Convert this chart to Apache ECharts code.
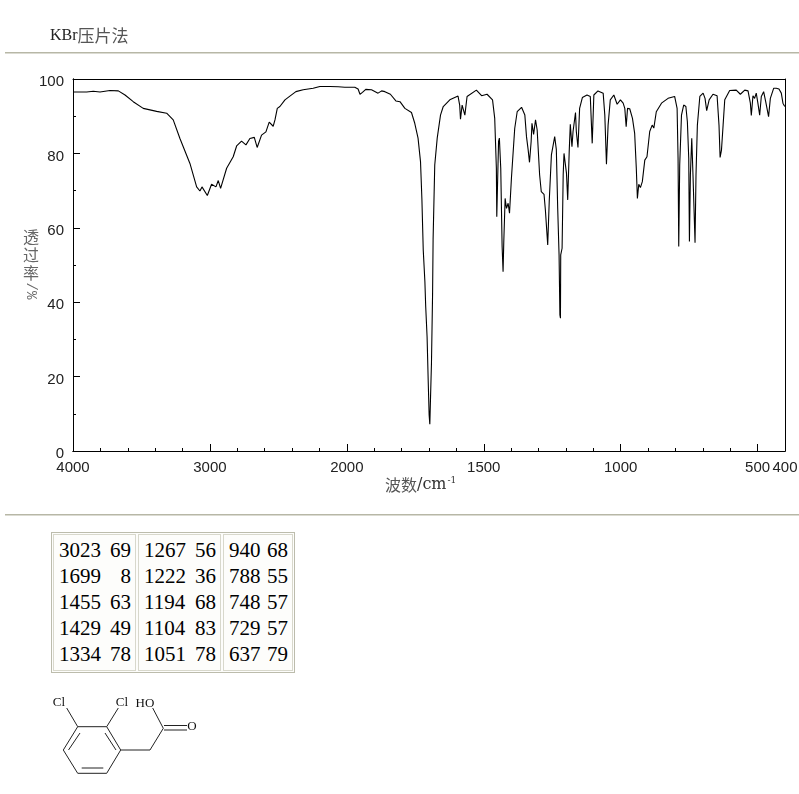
<!DOCTYPE html>
<html lang="zh">
<head>
    <meta charset="UTF-8">
    <title>KBr压片法</title>
    <style>
        html, body { margin: 0; padding: 0; background: #fff; }
        #ir { position: absolute; left: 0; top: 0; width: 799px; height: 794px; }
        /*峰值表*/
        #peaks {
            position: absolute; left: 51px; top: 532px; width: 240px; height: 137px;
            border: 1px solid #bcbcac; display: flex; gap: 2px; padding: 1px;
            font: 21px/26px "Liberation Serif", serif; color: #000; background: #fdfdfb;
        }
        #peaks .col { border: 1px solid #d8d8cc; padding: 2px 4px 0 5px; box-sizing: border-box; height: 100%; }
        #peaks .row { display: flex; justify-content: space-between; }
    </style>
</head>
<body>
<div id="ir"></div>
<div id="peaks"></div>
<script src="https://cdn.jsdelivr.net/npm/echarts@6/dist/echarts.min.js"></script>
<script>
    var waveNumbers = [
        3998, 3900, 3852, 3803, 3730, 3669, 3620, 3560, 3487, 3389, 3316, 3268, 3219, 3146, 3097, 3073, 3058, 3019, 2988, 2956,
        2939, 2922, 2878, 2830, 2805, 2769, 2737, 2708, 2676, 2655, 2623, 2591, 2567, 2538, 2525, 2508, 2489, 2452, 2416, 2372,
        2319, 2246, 2197, 2124, 2063, 2015, 1971, 1959, 1952, 1943, 1931, 1910, 1886, 1873, 1861, 1841, 1821, 1806, 1788, 1764,
        1752, 1740, 1731, 1726, 1721, 1715, 1712, 1707, 1703, 1699.5, 1697, 1695, 1691, 1687, 1685, 1679, 1670, 1658, 1648, 1624,
        1594, 1588, 1585, 1579, 1569, 1561, 1527, 1508, 1488, 1468, 1460, 1454, 1452.5, 1446, 1443, 1438, 1433, 1429.5, 1427, 1422,
        1417, 1411, 1406, 1399, 1387, 1378, 1362, 1350, 1344, 1338, 1333, 1327, 1324, 1318, 1311, 1305, 1296, 1290, 1280, 1275,
        1266.5, 1261, 1253, 1241, 1235, 1230, 1225, 1222, 1220, 1219, 1214, 1210, 1207, 1202, 1198, 1193.5, 1188, 1184, 1181, 1178,
        1174, 1165, 1162, 1156, 1150, 1140, 1123, 1111, 1104, 1098, 1083, 1064, 1058, 1052, 1046, 1038, 1025, 1013, 1001, 991,
        985, 980, 975, 967, 957, 949, 943, 939, 934, 928, 921, 912, 904, 894, 885, 879, 870, 851, 827, 803,
        794, 790.5, 788, 784.5, 778, 770, 762, 756.5, 751.5, 749, 745.5, 740.5, 736, 728.5, 725, 720, 711, 699, 692, 686,
        677, 663, 648, 641, 637, 632, 626, 620, 602, 578, 563, 547, 535, 526.5, 523, 517, 511, 505, 499, 492.5,
        486.5, 478, 470.5, 460, 453.5, 441.5, 432, 422, 413.5, 407.5, 401
    ];
    var transmittance = [
        96.5, 96.5, 96.7, 96.5, 96.9, 96.8, 95.7, 93.9, 92.1, 91.3, 90.8, 89, 84, 77.3, 71, 69.9, 71, 68.7, 71.7, 71,
        72.7, 70.6, 76, 79.1, 82, 83.3, 82.3, 84, 84.3, 81.6, 84.9, 85.8, 88.4, 87.3, 89, 92.1, 92.6, 94.4, 95.4, 96.6,
        97.1, 97.5, 98, 98, 97.9, 97.8, 97.8, 97.3, 95.9, 96.4, 97.2, 97.1, 96.2, 96.8, 96.6, 95.9, 94.1, 93.9, 92.1, 91,
        88.1, 84.1, 77.8, 67.9, 54, 45.5, 38.8, 30.7, 19.1, 9.7, 7.2, 12.8, 23.6, 41.9, 57, 76.9, 84.1, 90.3, 92.6, 94.4,
        95.4, 93, 89.2, 93, 90.3, 95.3, 97, 95.5, 95.9, 94.4, 89.4, 76, 63, 83.2, 84.1, 76, 55, 48.2, 56, 67.9,
        65.2, 66.6, 63.9, 73.3, 86.7, 91.2, 92.4, 90.3, 84.5, 81, 77.6, 83.2, 88.1, 85.1, 89, 86.3, 74.2, 69.7, 69, 64.8,
        55.4, 67, 79.6, 84.5, 81, 65.2, 52.7, 36.6, 35.7, 52.7, 54.5, 74.2, 80, 79.6, 74.7, 67.5, 80.5, 87.8, 87.6, 81.8,
        85.9, 91, 85.9, 81.6, 92.1, 95, 95.7, 95.3, 82.7, 95.7, 96.8, 96.2, 90.3, 77.1, 87.6, 94.4, 95.7, 93.2, 94.4, 93.5,
        92.1, 87.2, 92.1, 92, 89.4, 85.4, 76, 67.9, 71.7, 70.8, 72.4, 78.2, 79.1, 85.9, 87.6, 86.8, 91.2, 93.5, 94.8, 95.3,
        92.1, 78.7, 55, 76.9, 90.3, 93, 92.6, 88.5, 78.7, 56.3, 74.2, 84.1, 74.2, 56, 74.2, 87.6, 95.3, 96.2, 94.8, 91.5,
        94.4, 95.9, 95.5, 87.6, 78.9, 80.9, 87.6, 94.4, 96.9, 97, 95.9, 97, 96.8, 93.5, 90.2, 95.5, 94.8, 96.2, 93.5, 90.3,
        95.3, 96.6, 93.9, 89.9, 94.8, 97.5, 97.5, 97.3, 96.2, 93.5, 92.6
    ];
    var xTickWaves = [4000, 3000, 2000, 1500, 1000, 500, 400];
    var yTicks = [0, 20, 40, 60, 80, 100];
    var peakWaves = [3023, 1699, 1455, 1429, 1334, 1267, 1222, 1194, 1104, 1051, 940, 788, 748, 729, 637];
    var peakValues = [69, 8, 63, 49, 78, 56, 36, 68, 83, 78, 68, 55, 57, 57, 79];

    /*波数轴在2000处换比例，2000以下每厘米拉开一倍*/
    function waveToPos(w) {
        return w >= 2000 ? 4000 - w : 2000 + (2000 - w) * 2;
    }

    var tickFont = '"Liberation Sans", sans-serif';
    var cjkFont = '"Noto Sans CJK SC", sans-serif';
    var serifFont = '"DejaVu Serif", serif';
    var tan = '#b7b7a6';

    var xLabels = {};
    xTickWaves.forEach(function (w) { xLabels[waveToPos(w)] = w; });

    function blankX(extra) {
        var a = {
            type: 'value', min: 0, max: 5200, interval: 200,
            axisLine: {show: true, onZero: false, lineStyle: {color: '#000', width: 1}},
            axisTick: {show: false}, axisLabel: {show: false}, splitLine: {show: false}
        };
        return Object.assign(a, extra);
    }
    function blankY(extra) {
        var a = {
            type: 'value', min: 0, max: 100, interval: 10,
            axisLine: {show: true, onZero: false, lineStyle: {color: '#000', width: 1}},
            axisTick: {show: false}, axisLabel: {show: false}, splitLine: {show: false}
        };
        return Object.assign(a, extra);
    }

    /*结构式*/
    var bonds = [
        [77.7, 726.7, 106.7, 726.7], [106.7, 726.7, 120.7, 750], [120.7, 750, 106.7, 773.3],
        [106.7, 773.3, 77.7, 773.3], [77.7, 773.3, 63.3, 750], [63.3, 750, 77.7, 726.7],
        [80, 733, 68.5, 750], [105, 733, 116, 750], [81.7, 768, 103.3, 768],
        [77.7, 726.7, 66.7, 708], [106.7, 726.7, 118.3, 708],
        [120.7, 750, 150, 750], [150, 750, 163.3, 728.3], [163.3, 728.3, 152.7, 708],
        [164, 725.5, 187, 725.5], [164, 730, 187, 730]
    ];
    var atoms = [['Cl', 59, 702.5], ['Cl', 122, 702.5], ['HO', 145, 704], ['O', 192, 727]];

    var graphics = [
        {type: 'rect', shape: {x: 5, y: 52, width: 794, height: 1.5}, style: {fill: tan}},
        {type: 'rect', shape: {x: 5, y: 514, width: 794, height: 1.5}, style: {fill: tan}},
        {type: 'text', x: 50, y: 36, style: {
            text: '{m|KBr}{z|压片法}', fill: '#333', verticalAlign: 'middle',
            rich: {m: {font: '16px "Liberation Serif", serif', fill: '#222'}, z: {font: '17px ' + cjkFont, fill: '#555'}}
        }},
        {type: 'text', x: 31, y: 255, style: {text: '透\n过\n率', font: '16px ' + cjkFont, lineHeight: 18, fill: '#666', align: 'center', verticalAlign: 'middle'}},
        {type: 'text', x: 31, y: 291, rotation: -Math.PI / 2, style: {text: '/%', font: '14px "Liberation Mono", monospace', fill: '#666', align: 'center', verticalAlign: 'middle'}},
        {type: 'text', x: 385, y: 485, style: {
            text: '{z|波数}{m|/cm}{s|-1}', verticalAlign: 'middle',
            rich: {
                z: {font: '16px ' + cjkFont, fill: '#555'},
                m: {font: '16px ' + serifFont, fill: '#333'},
                s: {font: '9px ' + serifFont, fill: '#333', padding: [0, 0, 9, 1]}
            }
        }}
    ];
    bonds.forEach(function (b) {
        graphics.push({type: 'line', shape: {x1: b[0], y1: b[1], x2: b[2], y2: b[3]}, style: {stroke: '#222', lineWidth: 1}});
    });
    atoms.forEach(function (a) {
        graphics.push({type: 'text', x: a[1], y: a[2], style: {text: a[0], font: '13px "Liberation Serif", serif', fill: '#111', align: 'center', verticalAlign: 'middle'}});
    });

    var ir = echarts.init(document.getElementById('ir'));
    var ir_option = {
        animation: false,
        grid: {left: 73, top: 79, width: 712, height: 372, outerBoundsMode: 'none'},
        xAxis: [
            blankX({position: 'bottom', axisTick: {show: true, inside: true, length: 3, lineStyle: {color: '#000'}}}),
            blankX({
                position: 'bottom',
                axisTick: {show: true, inside: true, length: 7, lineStyle: {color: '#000'}, customValues: [0, 1000, 2000, 3000, 4000, 5000]},
                axisLabel: {
                    show: true, margin: 9, color: '#222', fontSize: 15, fontFamily: tickFont,
                    hideOverlap: false,
                    customValues: xTickWaves.map(waveToPos),
                    formatter: function (v) { return xLabels[v]; }
                }
            }),
            blankX({position: 'top'})
        ],
        yAxis: [
            blankY({position: 'left', axisTick: {show: true, inside: true, length: 3, lineStyle: {color: '#000'}}}),
            blankY({
                position: 'left',
                axisTick: {show: true, inside: true, length: 7, lineStyle: {color: '#000'}, customValues: yTicks},
                axisLabel: {show: true, margin: 9, color: '#222', fontSize: 15, fontFamily: tickFont, customValues: yTicks, verticalAlign: 'top', lineHeight: 6}
            }),
            blankY({position: 'right'})
        ],
        series: [{
            type: 'line',
            xAxisIndex: 0,
            yAxisIndex: 0,
            showSymbol: false,
            smooth: false,
            lineStyle: {color: '#000', width: 1.1},
            data: waveNumbers.map(function (w, i) { return [waveToPos(w), transmittance[i]]; })
        }],
        graphic: graphics
    };
    ir.setOption(ir_option);

    /*峰值表，每列5行*/
    var peaksHtml = '';
    var widths = [83, 83, 70];
    for (var c = 0; c < 3; c++) {
        peaksHtml += '<div class="col" style="width:' + widths[c] + 'px">';
        for (var r = 0; r < 5; r++) {
            var k = c * 5 + r;
            peaksHtml += '<div class="row"><span>' + peakWaves[k] + '</span><span>' + peakValues[k] + '</span></div>';
        }
        peaksHtml += '</div>';
    }
    document.getElementById('peaks').innerHTML = peaksHtml;
</script>
</body>
</html>
